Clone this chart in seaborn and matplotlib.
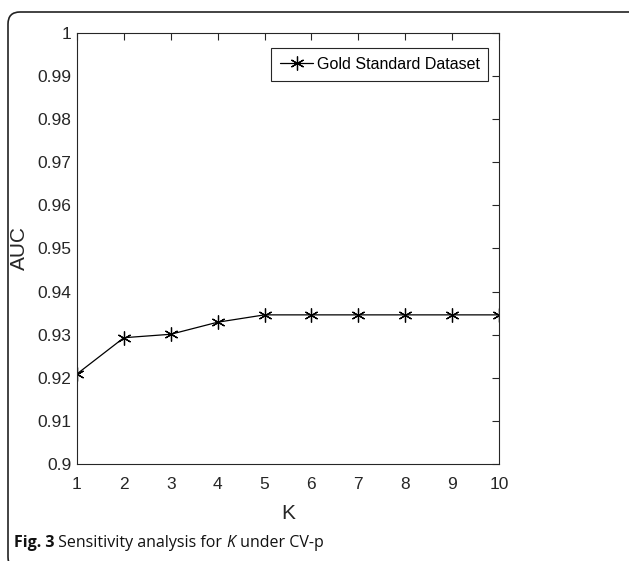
import matplotlib
matplotlib.use("Agg")
import matplotlib.pyplot as plt
import seaborn as sns
import pandas as pd
from matplotlib.patches import FancyBboxPatch
from matplotlib.transforms import IdentityTransform

K_values = [1, 2, 3, 4, 5, 6, 7, 8, 9, 10]
auc_values = [0.9209, 0.9293, 0.9301, 0.9329, 0.9346, 0.9346, 0.9346, 0.9346, 0.9346, 0.9346]
series_name = "Gold Standard Dataset"
y_ticks = [0.9, 0.91, 0.92, 0.93, 0.94, 0.95, 0.96, 0.97, 0.98, 0.99, 1.0]
y_tick_labels = ["0.9", "0.91", "0.92", "0.93", "0.94", "0.95", "0.96", "0.97", "0.98", "0.99", "1"]

sns.set_theme(style="white")
plt.rcParams['font.family'] = ['Liberation Sans', 'DejaVu Sans']

df = pd.DataFrame({"K": K_values, "AUC": auc_values, "series": series_name})

fig = plt.figure(figsize=(6.29, 5.61), dpi=100)
ax = fig.add_axes([0.1224, 0.1729, 0.6709, 0.7683])

sns.lineplot(data=df, x="K", y="AUC", hue="series", palette=["#000000"],
             marker=(6, 2, 0), markersize=10, markeredgewidth=0.9,
             markeredgecolor="#000000", linewidth=0.9, ax=ax)

ax.set_xlim(1, 10)
ax.set_ylim(0.9, 1.0)
ax.set_xticks(K_values)
ax.set_xticklabels([str(k) for k in K_values])
ax.set_yticks(y_ticks)
ax.set_yticklabels(y_tick_labels)

tick_color = "#262626"
ax.tick_params(direction="in", length=5, width=0.8, colors=tick_color,
               labelsize=12.5, top=True, right=True, labelcolor=tick_color)
ax.tick_params(axis="x", pad=9)
ax.tick_params(axis="y", pad=4)
for s in ax.spines.values():
    s.set_color(tick_color)
    s.set_linewidth(0.8)

ax.set_xlabel("K", fontsize=15, color=tick_color, labelpad=9)
ax.set_ylabel("AUC", fontsize=15, color=tick_color, labelpad=6)

leg = ax.legend(loc="upper right", bbox_to_anchor=(0.975, 0.965), frameon=True,
                fancybox=False, prop={"size": 11.5},
                handlelength=2.1, handletextpad=0.2,
                borderpad=0.55, borderaxespad=0.0)
leg.get_frame().set_edgecolor(tick_color)
leg.get_frame().set_linewidth(0.8)
leg.get_frame().set_alpha(1)
for t in leg.get_texts():
    t.set_color("#000000")
for h in leg.legend_handles:
    h.set_markeredgecolor("#000000")

# outer rounded frame (pixel coordinates)
frame = FancyBboxPatch((8, -8), 640, 557,
                       boxstyle="round,pad=0,rounding_size=12",
                       transform=IdentityTransform(), fill=False,
                       edgecolor="#222222", linewidth=1.2, clip_on=False)
fig.patches.append(frame)

# caption made of consecutive text pieces
cap_family = ["Open Sans", "DejaVu Sans"]
cap_size = 11.5
cap_y = 1 - 543 / 561
pieces = [("Fig. 3", "bold", "normal"), (" Sensitivity analysis for ", "normal", "normal"),
          ("K", "normal", "italic"), (" under CV-p", "normal", "normal")]
renderer = fig.canvas.get_renderer()
x = 14 / 629
for txt, weight, style in pieces:
    t = fig.text(x, cap_y, txt, fontsize=cap_size, fontweight=weight, fontstyle=style,
                 family=cap_family, va="center", ha="left", color="#111111")
    bb = t.get_window_extent(renderer=renderer)
    x += bb.width / fig.bbox.width

fig.savefig("out.png", dpi=100)
